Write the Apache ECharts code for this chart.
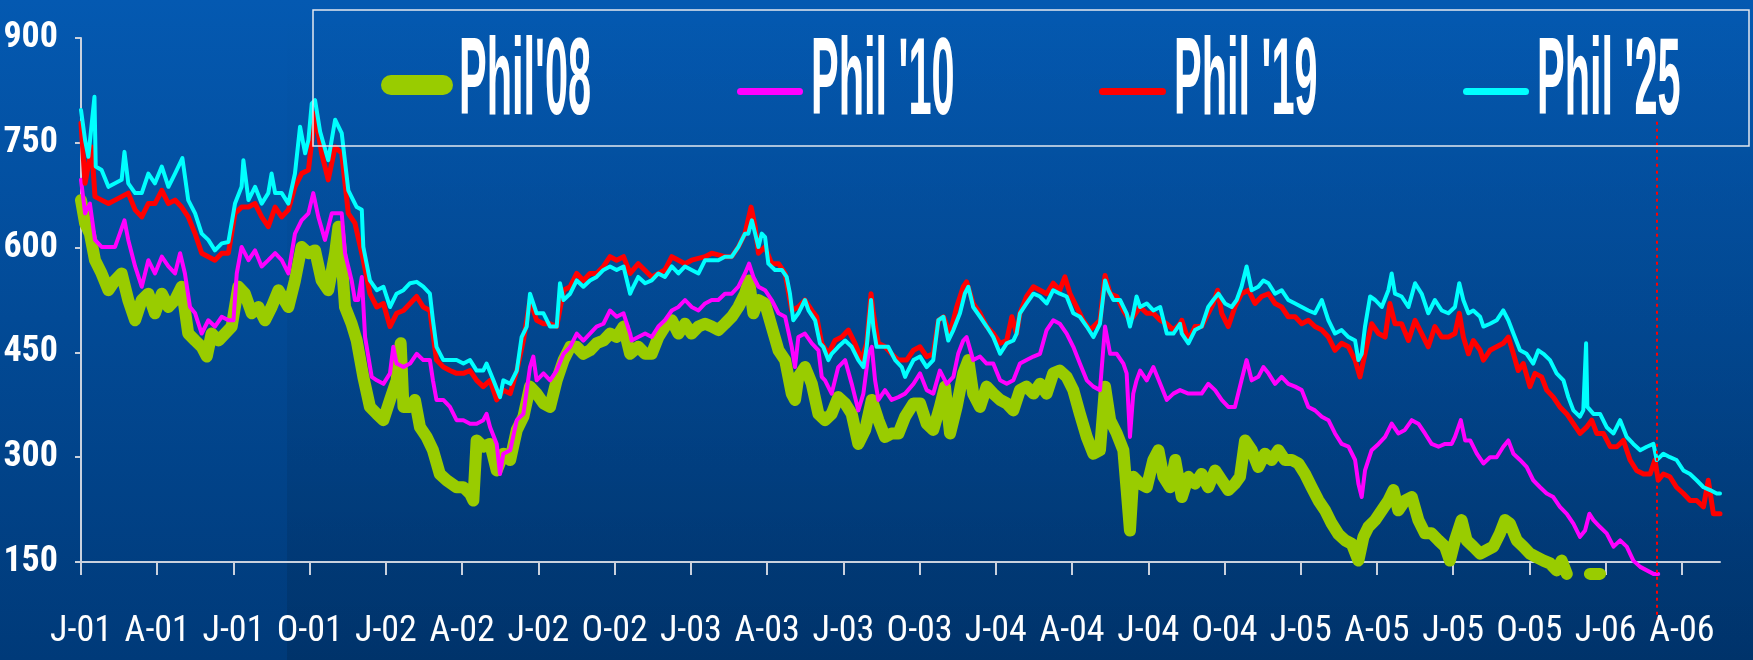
<!DOCTYPE html>
<html>
<head>
<meta charset="utf-8">
<title>Phil prices</title>
<script src="https://cdn.jsdelivr.net/npm/echarts@6/dist/echarts.min.js"></script>
<style>
  html, body { margin: 0; padding: 0; }
  #chart { width: 1753px; height: 660px; }
</style>
</head>
<body>
<div id="chart"></div>
<script>
// x values are months counted from Jan 2001 (0 = J-01, 63 = A-06)
var quarterStarts = [0, 3, 6, 9, 12, 15, 18, 21, 24, 27, 30, 33, 36, 39, 42, 45, 48, 51, 54, 57, 60, 63];
var xTickLabels = ['J-01', 'A-01', 'J-01', 'O-01', 'J-02', 'A-02', 'J-02', 'O-02', 'J-03', 'A-03', 'J-03',
  'O-03', 'J-04', 'A-04', 'J-04', 'O-04', 'J-05', 'A-05', 'J-05', 'O-05', 'J-06', 'A-06'];
var seriesNames = ["Phil'08", "Phil '10", "Phil '19", "Phil '25"];
var seriesColors = ['#99cc00', '#ff00ff', '#ff0000', '#00ffff'];
// red dotted marker, early Mar 2006, from the legend down past the axis
var markerLine = [[62.02, 780], [62.02, 68]];

var phil08 = [[0,668],[0.16,635],[0.35,620],[0.55,582],[0.81,563],[1.08,539],[1.34,553],[1.6,563],[1.86,525],[2.13,496],[2.39,525],[2.65,534],[2.91,506],[3.18,534],[3.44,515],[3.7,525],[3.96,544],[4.22,477],[4.49,467],[4.75,458],[4.95,444],[5.14,477],[5.41,467],[5.67,477],[5.93,487],[6.19,544],[6.45,534],[6.72,506],[6.98,515],[7.24,496],[7.5,515],[7.77,539],[8.16,515],[8.42,553],[8.68,601],[8.95,592],[9.21,596],[9.47,553],[9.73,539],[10.0,592],[10.13,630],[10.26,582],[10.39,515],[10.65,491],[10.85,467],[11.11,415],[11.37,372],[11.64,362],[11.9,353],[12.16,382],[12.42,410],[12.58,463],[12.69,372],[12.95,372],[13.14,382],[13.34,343],[13.6,329],[13.85,310],[14.12,276],[14.39,267],[14.78,257],[15.05,257],[15.31,248],[15.44,238],[15.57,324],[15.83,315],[16.1,319],[16.36,281],[16.62,305],[16.89,296],[17.15,339],[17.41,358],[17.67,401],[17.93,391],[18.2,377],[18.46,372],[18.72,410],[18.99,439],[19.25,458],[19.51,458],[19.77,448],[20.03,453],[20.29,463],[20.56,467],[20.82,477],[21.08,472],[21.35,487],[21.61,448],[21.93,458],[22.2,448],[22.46,448],[22.72,472],[22.98,487],[23.25,496],[23.51,477],[23.77,491],[24.03,477],[24.3,487],[24.56,491],[24.82,487],[25.08,482],[25.34,491],[25.61,501],[25.87,515],[26.13,534],[26.29,553],[26.46,506],[26.66,525],[26.92,520],[27.18,487],[27.45,453],[27.71,439],[27.97,391],[28.1,382],[28.23,415],[28.49,429],[28.76,405],[29.02,362],[29.28,353],[29.54,362],[29.8,386],[30.07,377],[30.33,362],[30.59,319],[30.86,339],[31.12,382],[31.38,353],[31.64,329],[31.9,334],[32.17,334],[32.43,358],[32.76,377],[33.02,377],[33.28,348],[33.54,339],[33.8,372],[34.0,401],[34.2,334],[34.46,372],[34.72,420],[34.92,439],[35.11,391],[35.38,372],[35.64,401],[35.9,391],[36.17,382],[36.43,377],[36.69,367],[36.95,396],[37.21,401],[37.48,391],[37.74,405],[38.0,391],[38.26,420],[38.52,424],[38.79,415],[39.05,396],[39.31,362],[39.58,329],[39.84,305],[40.1,310],[40.3,401],[40.5,353],[40.76,334],[41.02,310],[41.15,253],[41.28,195],[41.41,272],[41.68,262],[41.94,257],[42.2,296],[42.4,310],[42.6,272],[42.86,257],[43.06,296],[43.32,243],[43.58,272],[43.84,262],[44.1,276],[44.36,257],[44.63,281],[44.89,267],[45.15,253],[45.41,262],[45.61,272],[45.81,324],[46.07,310],[46.33,286],[46.59,305],[46.86,296],[47.12,310],[47.38,296],[47.65,296],[47.91,291],[48.17,276],[48.43,257],[48.7,238],[48.96,224],[49.22,205],[49.48,190],[49.75,181],[50.01,176],[50.27,152],[50.47,186],[50.66,200],[50.93,210],[51.19,224],[51.45,238],[51.65,253],[51.84,224],[52.1,238],[52.37,243],[52.63,210],[52.89,191],[53.15,191],[53.42,181],[53.68,172],[53.87,152],[54.07,181],[54.33,210],[54.53,181],[54.79,172],[55.06,162],[55.32,167],[55.58,172],[55.84,191],[56.04,210],[56.23,205],[56.5,181],[56.76,172],[57.02,162],[57.28,157],[57.55,152],[57.81,148],[58.07,138],[58.27,152],[58.47,133],[58.7,null],[59.38,133],[59.78,133]];

var phil10 = [[0,697],[0.16,649],[0.35,663],[0.55,611],[0.81,601],[1.08,601],[1.34,601],[1.71,639],[1.86,611],[2.13,573],[2.39,544],[2.65,582],[2.91,563],[3.18,587],[3.44,573],[3.7,563],[3.9,592],[4.09,563],[4.29,515],[4.49,506],[4.75,477],[5.01,496],[5.27,487],[5.54,501],[5.8,496],[6.0,496],[6.13,563],[6.32,601],[6.59,582],[6.85,596],[7.11,573],[7.37,582],[7.64,592],[7.9,582],[8.16,563],[8.42,620],[8.68,639],[8.95,649],[9.14,678],[9.34,644],[9.6,611],[9.87,649],[10.26,649],[10.39,592],[10.65,553],[10.78,525],[10.91,525],[11.05,558],[11.18,472],[11.44,415],[11.64,410],[11.9,405],[12.16,420],[12.29,458],[12.42,434],[12.69,429],[12.95,434],[13.21,448],[13.47,439],[13.73,439],[13.85,410],[13.99,382],[14.26,382],[14.52,372],[14.78,353],[15.05,353],[15.31,348],[15.57,348],[15.83,353],[15.96,362],[16.1,343],[16.36,319],[16.49,276],[16.62,305],[16.89,310],[17.15,353],[17.41,362],[17.67,429],[17.8,444],[17.93,410],[18.2,420],[18.46,410],[18.72,424],[18.99,448],[19.25,458],[19.51,477],[19.77,467],[20.03,477],[20.29,487],[20.56,491],[20.82,510],[21.08,501],[21.35,506],[21.61,477],[21.67,467],[21.93,472],[22.2,477],[22.46,472],[22.72,487],[22.98,496],[23.25,510],[23.51,515],[23.77,525],[24.03,515],[24.3,510],[24.56,520],[24.82,525],[25.08,525],[25.34,534],[25.61,534],[25.87,544],[26.13,563],[26.29,577],[26.46,558],[26.66,544],[26.92,539],[27.18,525],[27.45,506],[27.71,501],[27.97,458],[28.1,429],[28.23,472],[28.49,477],[28.76,463],[29.02,453],[29.15,415],[29.28,410],[29.54,391],[29.8,429],[30.07,439],[30.33,405],[30.59,367],[30.79,391],[30.99,448],[31.12,458],[31.25,410],[31.38,382],[31.64,396],[31.9,382],[32.17,386],[32.43,391],[32.76,405],[33.02,420],[33.28,396],[33.54,391],[33.8,424],[34.07,405],[34.33,415],[34.52,448],[34.72,467],[34.85,472],[35.11,439],[35.38,444],[35.64,434],[35.9,434],[36.17,410],[36.43,405],[36.69,410],[36.95,434],[37.21,439],[37.48,444],[37.74,448],[38.0,482],[38.26,496],[38.52,491],[38.79,477],[39.05,458],[39.31,434],[39.58,410],[39.84,401],[40.1,396],[40.3,487],[40.5,448],[40.76,448],[41.02,434],[41.15,420],[41.28,329],[41.41,391],[41.54,410],[41.68,424],[41.94,410],[42.2,429],[42.47,405],[42.73,382],[42.99,391],[43.25,396],[43.58,391],[43.84,391],[44.1,391],[44.36,405],[44.63,396],[44.89,382],[45.15,372],[45.41,372],[45.67,410],[45.87,439],[46.07,410],[46.33,415],[46.53,429],[46.73,420],[46.99,405],[47.25,415],[47.51,405],[47.78,401],[48.04,396],[48.3,372],[48.56,367],[48.83,358],[49.09,353],[49.35,334],[49.61,319],[49.88,315],[50.14,296],[50.27,262],[50.4,243],[50.53,281],[50.79,310],[51.06,319],[51.32,329],[51.58,348],[51.84,334],[52.1,339],[52.37,353],[52.63,348],[52.89,334],[53.15,319],[53.42,315],[53.68,319],[53.94,319],[54.07,329],[54.3,353],[54.47,324],[54.67,324],[54.93,305],[55.19,291],[55.45,300],[55.71,300],[55.97,315],[56.17,324],[56.37,305],[56.63,296],[56.89,286],[57.15,267],[57.42,257],[57.68,248],[57.94,243],[58.2,229],[58.47,219],[58.73,205],[58.99,186],[59.19,195],[59.36,219],[59.52,210],[59.78,200],[60.04,191],[60.31,172],[60.57,181],[60.83,172],[61.09,152],[61.36,143],[61.62,138],[61.88,133],[62.07,133]];

var phil19 = [[0,778],[0.16,692],[0.42,744],[0.55,673],[0.81,668],[1.08,663],[1.34,668],[1.6,673],[1.86,678],[2.13,654],[2.39,644],[2.65,663],[2.91,663],[3.18,682],[3.44,663],[3.7,668],[3.96,658],[4.22,644],[4.49,620],[4.75,592],[5.01,587],[5.27,582],[5.54,592],[5.8,592],[6.06,649],[6.32,658],[6.59,658],[6.85,663],[7.11,644],[7.37,630],[7.64,658],[7.9,644],[8.16,654],[8.42,687],[8.68,706],[8.95,711],[9.21,792],[9.47,735],[9.73,697],[10.0,744],[10.26,735],[10.52,649],[10.78,635],[11.11,582],[11.37,534],[11.64,515],[11.9,520],[12.16,487],[12.42,506],[12.69,510],[12.95,520],[13.21,530],[13.47,515],[13.73,510],[13.85,477],[13.99,439],[14.26,429],[14.52,424],[14.78,420],[15.05,420],[15.31,424],[15.57,410],[15.83,401],[16.1,410],[16.36,382],[16.62,396],[16.89,391],[17.15,424],[17.41,467],[17.67,525],[17.93,496],[18.2,491],[18.46,491],[18.72,487],[18.99,539],[19.25,544],[19.51,563],[19.77,553],[20.03,563],[20.29,563],[20.56,573],[20.82,587],[21.08,582],[21.35,587],[21.61,563],[21.93,577],[22.46,558],[22.98,568],[23.25,587],[23.77,577],[24.03,582],[24.56,587],[24.82,592],[25.34,587],[25.61,587],[25.87,601],[26.13,620],[26.37,658],[26.53,630],[26.66,592],[26.92,601],[27.18,577],[27.45,577],[27.71,563],[27.97,510],[28.23,515],[28.49,525],[28.76,510],[28.95,501],[29.15,463],[29.41,448],[29.67,467],[29.94,472],[30.2,482],[30.46,463],[30.72,439],[30.92,463],[31.09,534],[31.18,506],[31.38,463],[31.64,458],[31.9,448],[32.17,439],[32.49,439],[32.76,453],[33.02,458],[33.28,444],[33.54,448],[33.74,496],[33.94,501],[34.2,477],[34.46,515],[34.72,544],[34.85,551],[35.11,520],[35.38,506],[35.64,487],[35.9,477],[36.17,463],[36.43,467],[36.63,501],[36.82,477],[36.95,506],[37.21,530],[37.48,544],[37.74,539],[38.0,534],[38.26,549],[38.52,539],[38.72,558],[38.92,534],[39.18,515],[39.44,496],[39.71,482],[40.1,496],[40.3,560],[40.5,534],[40.76,530],[41.02,510],[41.28,496],[41.41,501],[41.68,515],[41.94,506],[42.2,506],[42.47,496],[42.73,491],[42.99,482],[43.25,491],[43.32,496],[43.58,467],[43.84,487],[44.1,487],[44.36,506],[44.56,520],[44.73,539],[44.89,506],[45.15,487],[45.41,515],[45.67,534],[45.94,539],[46.2,520],[46.46,530],[46.73,534],[46.99,520],[47.25,515],[47.51,501],[47.78,501],[48.04,491],[48.3,496],[48.56,487],[48.83,482],[49.09,472],[49.35,453],[49.61,463],[49.88,458],[50.14,439],[50.33,415],[50.53,448],[50.79,491],[51.06,477],[51.32,472],[51.51,520],[51.71,491],[51.97,491],[52.24,467],[52.5,496],[52.76,477],[53.02,458],[53.28,487],[53.55,472],[53.81,472],[54.07,477],[54.24,506],[54.4,472],[54.6,448],[54.79,467],[55.06,453],[55.19,439],[55.45,453],[55.71,458],[55.97,463],[56.17,472],[56.37,448],[56.56,424],[56.76,434],[57.02,401],[57.22,420],[57.48,415],[57.68,396],[57.94,386],[58.2,372],[58.47,362],[58.73,348],[58.99,334],[59.25,343],[59.45,353],[59.65,334],[59.91,334],[60.18,315],[60.44,315],[60.7,324],[60.96,296],[61.22,281],[61.49,276],[61.75,276],[61.94,296],[62.07,267],[62.27,276],[62.53,272],[62.79,257],[63.06,248],[63.32,238],[63.58,238],[63.85,229],[64.04,267],[64.24,219],[64.5,219]];

var phil25 = [[0,797],[0.16,754],[0.29,730],[0.53,816],[0.58,716],[0.81,711],[1.08,687],[1.34,692],[1.6,697],[1.71,737],[1.86,692],[2.13,678],[2.39,678],[2.65,706],[2.91,692],[3.18,716],[3.44,687],[3.7,706],[3.99,728],[4.22,668],[4.49,649],[4.75,620],[5.01,611],[5.27,596],[5.54,606],[5.8,608],[6.06,663],[6.32,687],[6.39,725],[6.59,668],[6.85,687],[7.11,663],[7.37,678],[7.5,706],[7.64,678],[7.9,678],[8.16,663],[8.42,706],[8.62,773],[8.82,735],[8.95,754],[9.08,806],[9.21,811],[9.41,766],[9.73,725],[10.0,783],[10.26,764],[10.52,682],[10.78,663],[10.85,658],[11.05,654],[11.11,601],[11.37,553],[11.64,539],[11.9,544],[12.16,515],[12.42,534],[12.69,539],[12.95,549],[13.21,551],[13.47,544],[13.73,534],[13.85,496],[13.99,458],[14.26,439],[14.52,439],[14.78,439],[15.05,434],[15.31,439],[15.57,424],[15.83,424],[15.96,434],[16.23,410],[16.49,386],[16.62,410],[16.89,405],[17.15,424],[17.34,472],[17.54,487],[17.67,534],[17.8,520],[17.93,506],[18.2,506],[18.46,487],[18.72,487],[18.85,549],[18.99,525],[19.25,534],[19.51,553],[19.77,544],[20.03,553],[20.29,558],[20.56,568],[20.82,573],[21.08,568],[21.35,573],[21.61,534],[21.67,539],[21.93,558],[22.2,549],[22.46,553],[22.72,563],[22.98,558],[23.25,573],[23.51,563],[23.77,573],[24.03,568],[24.3,563],[24.56,582],[24.82,582],[25.08,582],[25.34,587],[25.61,587],[25.87,601],[26.13,620],[26.26,620],[26.4,639],[26.53,620],[26.66,601],[26.79,620],[26.92,615],[27.05,577],[27.31,568],[27.58,568],[27.77,558],[27.9,534],[28.03,496],[28.23,506],[28.49,525],[28.63,510],[28.89,496],[29.08,463],[29.21,458],[29.41,439],[29.54,448],[29.8,458],[30.07,467],[30.33,458],[30.59,439],[30.79,429],[30.92,458],[31.09,525],[31.18,487],[31.31,458],[31.51,458],[31.77,458],[32.04,439],[32.3,429],[32.43,415],[32.49,420],[32.76,439],[33.02,444],[33.28,429],[33.54,439],[33.74,496],[33.94,501],[34.13,467],[34.33,482],[34.59,506],[34.78,534],[34.92,544],[35.11,515],[35.38,501],[35.64,487],[35.9,472],[36.17,448],[36.43,463],[36.69,467],[36.82,477],[36.95,506],[37.21,520],[37.48,534],[37.74,530],[38.0,520],[38.26,539],[38.52,534],[38.79,530],[39.05,506],[39.31,501],[39.58,487],[39.84,472],[40.1,491],[40.3,553],[40.43,539],[40.63,525],[40.89,525],[41.15,506],[41.28,487],[41.41,506],[41.54,530],[41.68,515],[41.94,520],[42.2,510],[42.47,515],[42.6,496],[42.73,477],[42.99,477],[43.25,491],[43.32,477],[43.58,463],[43.84,482],[44.1,487],[44.36,515],[44.56,525],[44.76,534],[45.02,520],[45.28,515],[45.48,525],[45.67,544],[45.87,573],[46.07,539],[46.33,544],[46.53,553],[46.73,549],[46.99,534],[47.25,539],[47.51,525],[47.78,520],[48.04,515],[48.3,510],[48.56,506],[48.83,525],[49.09,496],[49.35,477],[49.61,482],[49.88,472],[50.14,467],[50.27,439],[50.4,448],[50.53,487],[50.73,530],[50.93,525],[51.19,515],[51.45,539],[51.58,563],[51.71,534],[51.97,530],[52.24,515],[52.5,549],[52.76,534],[53.02,506],[53.28,525],[53.55,510],[53.81,506],[54.07,515],[54.24,549],[54.4,525],[54.6,506],[54.79,510],[55.06,501],[55.19,487],[55.45,491],[55.71,496],[55.97,510],[56.17,496],[56.37,477],[56.63,453],[56.89,448],[57.15,434],[57.35,453],[57.55,448],[57.81,439],[58.07,420],[58.34,410],[58.53,386],[58.73,367],[58.99,358],[59.12,367],[59.23,463],[59.28,372],[59.52,362],[59.78,362],[60.04,343],[60.31,334],[60.57,353],[60.83,329],[61.09,319],[61.36,310],[61.62,315],[61.88,319],[62.01,296],[62.27,305],[62.53,300],[62.79,296],[63.06,281],[63.32,276],[63.58,267],[63.85,257],[64.11,253],[64.37,248],[64.5,248]];

var seriesData = [phil08, phil10, phil19, phil25];
var lineWidths = [12, 4, 5, 4];

var myChart = echarts.init(document.getElementById('chart'));

var axisColor = '#c9d1de';

// legend drawn by hand: the labels in the picture are tall and narrow
var legendIcons = [
  { x: 381, y: 75, w: 72, h: 20 },
  { x: 737, y: 88, w: 66, h: 7 },
  { x: 1099, y: 88, w: 67, h: 7 },
  { x: 1463, y: 88, w: 66, h: 7 }
];
var legendTextX = [459, 811, 1174, 1537];

var graphics = [
  {
    type: 'rect', silent: true, z: -10,
    shape: { x: 287, y: 0, width: 1466, height: 660 },
    style: {
      fill: new echarts.graphic.LinearGradient(0, 0, 0, 1, [
        { offset: 0, color: 'rgba(0,0,0,0)' },
        { offset: 0.5, color: 'rgba(0,0,0,0.04)' },
        { offset: 1, color: 'rgba(0,0,0,0.12)' }
      ])
    }
  },
  {
    type: 'rect', silent: true, z: 10,
    shape: { x: 313, y: 10, width: 1436, height: 136 },
    style: { fill: 'none', stroke: '#e4e8f0', lineWidth: 1.5 }
  }
];
seriesNames.forEach(function (name, i) {
  var ic = legendIcons[i];
  graphics.push({
    type: 'rect', silent: true, z: 10,
    shape: { x: ic.x, y: ic.y, width: ic.w, height: ic.h, r: ic.h / 2 },
    style: { fill: seriesColors[i] }
  });
  graphics.push({
    type: 'text', silent: true, z: 10,
    x: legendTextX[i], y: 84, scaleY: 2.63,
    style: {
      text: name,
      fill: '#ffffff',
      font: 'bold 41.5px "Liberation Sans", Arial, sans-serif',
      textAlign: 'left',
      textVerticalAlign: 'middle',
      verticalAlign: 'middle'
    }
  });
});

var series = seriesNames.map(function (name, i) {
  return {
    name: name,
    type: 'line',
    data: seriesData[i],
    symbol: 'none',
    clip: false,
    connectNulls: false,
    z: 2 + i,
    lineStyle: {
      color: seriesColors[i],
      width: lineWidths[i],
      join: 'round',
      cap: 'round'
    },
    itemStyle: { color: seriesColors[i] }
  };
});
series.push({
  name: 'marker',
  type: 'line',
  data: markerLine,
  symbol: 'none',
  clip: false,
  silent: true,
  z: 8,
  lineStyle: { color: '#ff0000', width: 2, type: [3, 4] }
});

var option = {
  animation: false,
  backgroundColor: {
    type: 'linear', x: 0, y: 0, x2: 0, y2: 1,
    colorStops: [
      { offset: 0, color: '#0459b1' },
      { offset: 1, color: '#003a79' }
    ]
  },
  grid: {
    left: 81,
    right: 33,
    top: 38,
    bottom: 98
  },
  xAxis: {
    type: 'value',
    min: 0,
    max: 64.5,
    splitLine: { show: false },
    axisLine: { lineStyle: { color: axisColor, width: 2 } },
    axisTick: {
      show: true,
      length: 13,
      customValues: quarterStarts,
      lineStyle: { color: axisColor, width: 2 }
    },
    axisLabel: {
      customValues: quarterStarts,
      formatter: function (v) {
        return xTickLabels[Math.round(v / 3)];
      },
      color: '#ffffff',
      fontFamily: '"Roboto Condensed", "Open Sans Condensed", sans-serif',
      fontSize: 36,
      lineHeight: 36,
      margin: 52
    }
  },
  yAxis: {
    type: 'value',
    min: 150,
    max: 900,
    interval: 150,
    splitLine: { show: false },
    axisLine: { show: true, lineStyle: { color: axisColor, width: 2 } },
    axisTick: { show: true, length: 6, lineStyle: { color: axisColor, width: 2 } },
    axisLabel: {
      color: '#ffffff',
      fontFamily: '"Roboto Condensed", "Open Sans Condensed", sans-serif',
      fontWeight: 'bold',
      fontSize: 36,
      margin: 23
    }
  },
  graphic: graphics,
  series: series
};

myChart.setOption(option);
</script>
</body>
</html>
